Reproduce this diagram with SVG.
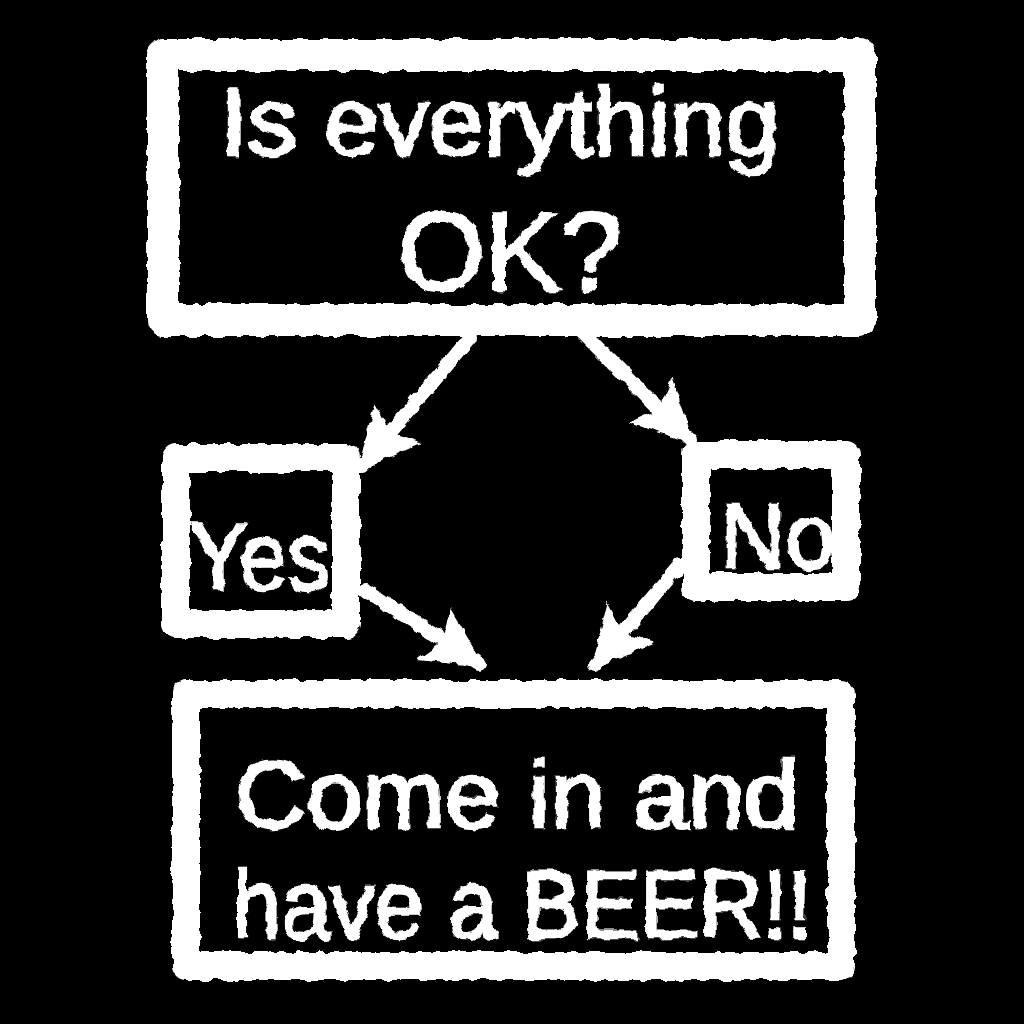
<svg xmlns="http://www.w3.org/2000/svg" width="1024" height="1024" viewBox="0 0 1024 1024">
<defs>
<filter id="rough" x="-5%" y="-5%" width="110%" height="110%">
<feTurbulence type="fractalNoise" baseFrequency="0.09" numOctaves="2" seed="3" result="n"/>
<feDisplacementMap in="SourceGraphic" in2="n" scale="7" xChannelSelector="R" yChannelSelector="G"/>
</filter>
<marker id="head" viewBox="0 0 10 10" refX="9" refY="5" markerWidth="62" markerHeight="62" markerUnits="userSpaceOnUse" orient="auto">
<path d="M0,0 L10,5 L0,10 L2,5 Z" fill="#fff"/>
</marker>
<style>
.box{fill:none;stroke:#fff;stroke-linejoin:round}
.lbl{fill:#fff;stroke:#fff;stroke-width:2.5;font-family:"Liberation Sans","DejaVu Sans",sans-serif}
.arr{stroke:#fff;stroke-width:14;fill:none;stroke-linecap:round}
</style>
</defs>
<rect width="1024" height="1024" fill="#000"/>
<g filter="url(#rough)">
<g id="question">
<rect class="box" x="163" y="55" width="697" height="265" stroke-width="32"/>
<text class="lbl" x="500" y="155" font-size="96" text-anchor="middle" textLength="560" lengthAdjust="spacingAndGlyphs">Is everything</text>
<text class="lbl" x="510" y="290" font-size="112" text-anchor="middle" textLength="225" lengthAdjust="spacingAndGlyphs">OK?</text>
</g>
<g id="yes">
<rect class="box" x="176" y="458" width="170" height="166" stroke-width="28"/>
<text class="lbl" x="260" y="590" font-size="96" text-anchor="middle" textLength="140" lengthAdjust="spacingAndGlyphs">Yes</text>
</g>
<g id="no">
<rect class="box" x="696" y="455" width="150" height="132" stroke-width="28"/>
<text class="lbl" x="778" y="568" font-size="92" text-anchor="middle" textLength="115" lengthAdjust="spacingAndGlyphs">No</text>
</g>
<g id="beer">
<rect class="box" x="186" y="694" width="655" height="272" stroke-width="28"/>
<text class="lbl" x="517" y="828" font-size="96" text-anchor="middle" textLength="565" lengthAdjust="spacingAndGlyphs">Come in and</text>
<text class="lbl" x="522" y="938" font-size="96" text-anchor="middle" textLength="580" lengthAdjust="spacingAndGlyphs">have a BEER!!</text>
</g>
<g id="connectors">
<line class="arr" x1="470" y1="338" x2="362" y2="466" marker-end="url(#head)"/>
<line class="arr" x1="580" y1="330" x2="690" y2="440" marker-end="url(#head)"/>
<line class="arr" x1="365" y1="590" x2="480" y2="664" marker-end="url(#head)"/>
<line class="arr" x1="680" y1="565" x2="595" y2="665" marker-end="url(#head)"/>
</g>
</g>
</svg>
